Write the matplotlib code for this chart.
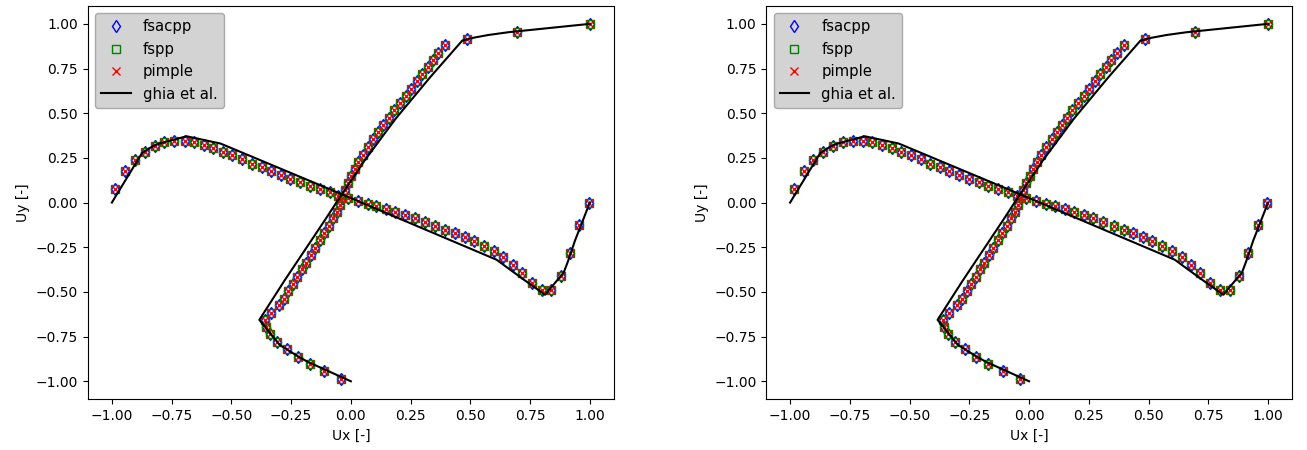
import matplotlib
matplotlib.use('Agg')
import matplotlib.pyplot as plt

# ghia et al. (Re=1000), coordinates scaled to [-1, 1]
ghia_u_y = [1.0, 0.9532, 0.9376, 0.9218, 0.9062, 0.7032, 0.4688, 0.2344, 0.0,
            -0.0938, -0.4374, -0.6562, -0.7968, -0.8594, -0.875, -0.8906, -1.0]
ghia_u = [1.0, 0.65928, 0.57492, 0.51117, 0.46604, 0.33304, 0.18719, 0.05702, -0.0608,
          -0.10648, -0.27805, -0.38289, -0.2973, -0.2222, -0.20196, -0.18109, 0.0]
ghia_v_x = [1.0, 0.9376, 0.9218, 0.9062, 0.8906, 0.8126, 0.7188, 0.6094, 0.0,
            -0.5312, -0.5468, -0.6874, -0.8124, -0.8438, -0.8594, -0.875, -1.0]
ghia_v = [0.0, -0.21388, -0.27669, -0.33714, -0.39188, -0.5155, -0.42665, -0.31966, 0.02526,
          0.32235, 0.33075, 0.37095, 0.32627, 0.30353, 0.29012, 0.27485, 0.0]

pos = [-0.985, -0.943, -0.904, -0.863, -0.821, -0.780, -0.738, -0.696, -0.658, -0.616,
       -0.575, -0.537, -0.496, -0.454, -0.415, -0.373, -0.336, -0.294, -0.253, -0.211,
       -0.173, -0.131, -0.089, -0.052, -0.013, 0.028, 0.070, 0.107, 0.149, 0.186,
       0.228, 0.267, 0.310, 0.354, 0.396, 0.436, 0.476, 0.516, 0.558, 0.597,
       0.638, 0.679, 0.717, 0.759, 0.800, 0.839, 0.879, 0.916, 0.956, 0.997]

# Ux along vertical centre line
sim_u = [-0.040, -0.111, -0.173, -0.222, -0.269, -0.311, -0.340, -0.355, -0.360, -0.335,
         -0.302, -0.280, -0.261, -0.242, -0.224, -0.204, -0.187, -0.168, -0.149, -0.130,
         -0.112, -0.093, -0.074, -0.058, -0.045, -0.035, -0.025, -0.012, 0.002, 0.016,
         0.032, 0.051, 0.072, 0.094, 0.115, 0.136, 0.158, 0.181, 0.206, 0.229,
         0.252, 0.276, 0.297, 0.321, 0.343, 0.366, 0.396, 0.486, 0.694, 0.999]

# Uy along horizontal centre line
sim_v = [0.077, 0.175, 0.239, 0.285, 0.315, 0.337, 0.346, 0.346, 0.337, 0.322,
         0.303, 0.285, 0.267, 0.244, 0.218, 0.197, 0.175, 0.156, 0.132, 0.113,
         0.095, 0.076, 0.058, 0.039, 0.024, 0.011, -0.007, -0.021, -0.035, -0.050,
         -0.067, -0.084, -0.106, -0.132, -0.151, -0.172, -0.194, -0.216, -0.244, -0.272,
         -0.306, -0.348, -0.393, -0.451, -0.488, -0.488, -0.413, -0.281, -0.125, 0.0]

series = [('fsacpp', 'd', 'blue'), ('fspp', 's', 'green'), ('pimple', 'x', 'red')]

fig, axes = plt.subplots(1, 2, figsize=(13.07, 4.5), dpi=100)
fig.subplots_adjust(left=0.0673, right=0.9885, bottom=0.113, top=0.9867, wspace=0.29)

for ax in axes:
    for name, mk, col in series:
        kw = dict(linestyle='none', marker=mk, markersize=6, label=name)
        if mk == 'x':
            kw.update(color=col, markeredgewidth=1.0)
        else:
            kw.update(markerfacecolor='none', markeredgecolor=col, markeredgewidth=1.0)
        ax.plot(sim_u, pos, **kw)
        kw.pop('label')
        ax.plot(pos, sim_v, **kw)
    ax.plot(ghia_u, ghia_u_y, color='black', lw=1.5, label='ghia et al.')
    ax.plot(ghia_v_x, ghia_v, color='black', lw=1.5)
    ax.set_xlim(-1.1, 1.1)
    ax.set_ylim(-1.1, 1.1)
    ax.set_xlabel('Ux [-]')
    ax.set_ylabel('Uy [-]')
    ax.legend(loc='upper left', facecolor='lightgrey', edgecolor='darkgrey',
              framealpha=1.0, fontsize=10.7)

fig.savefig('out.png', dpi=100)
